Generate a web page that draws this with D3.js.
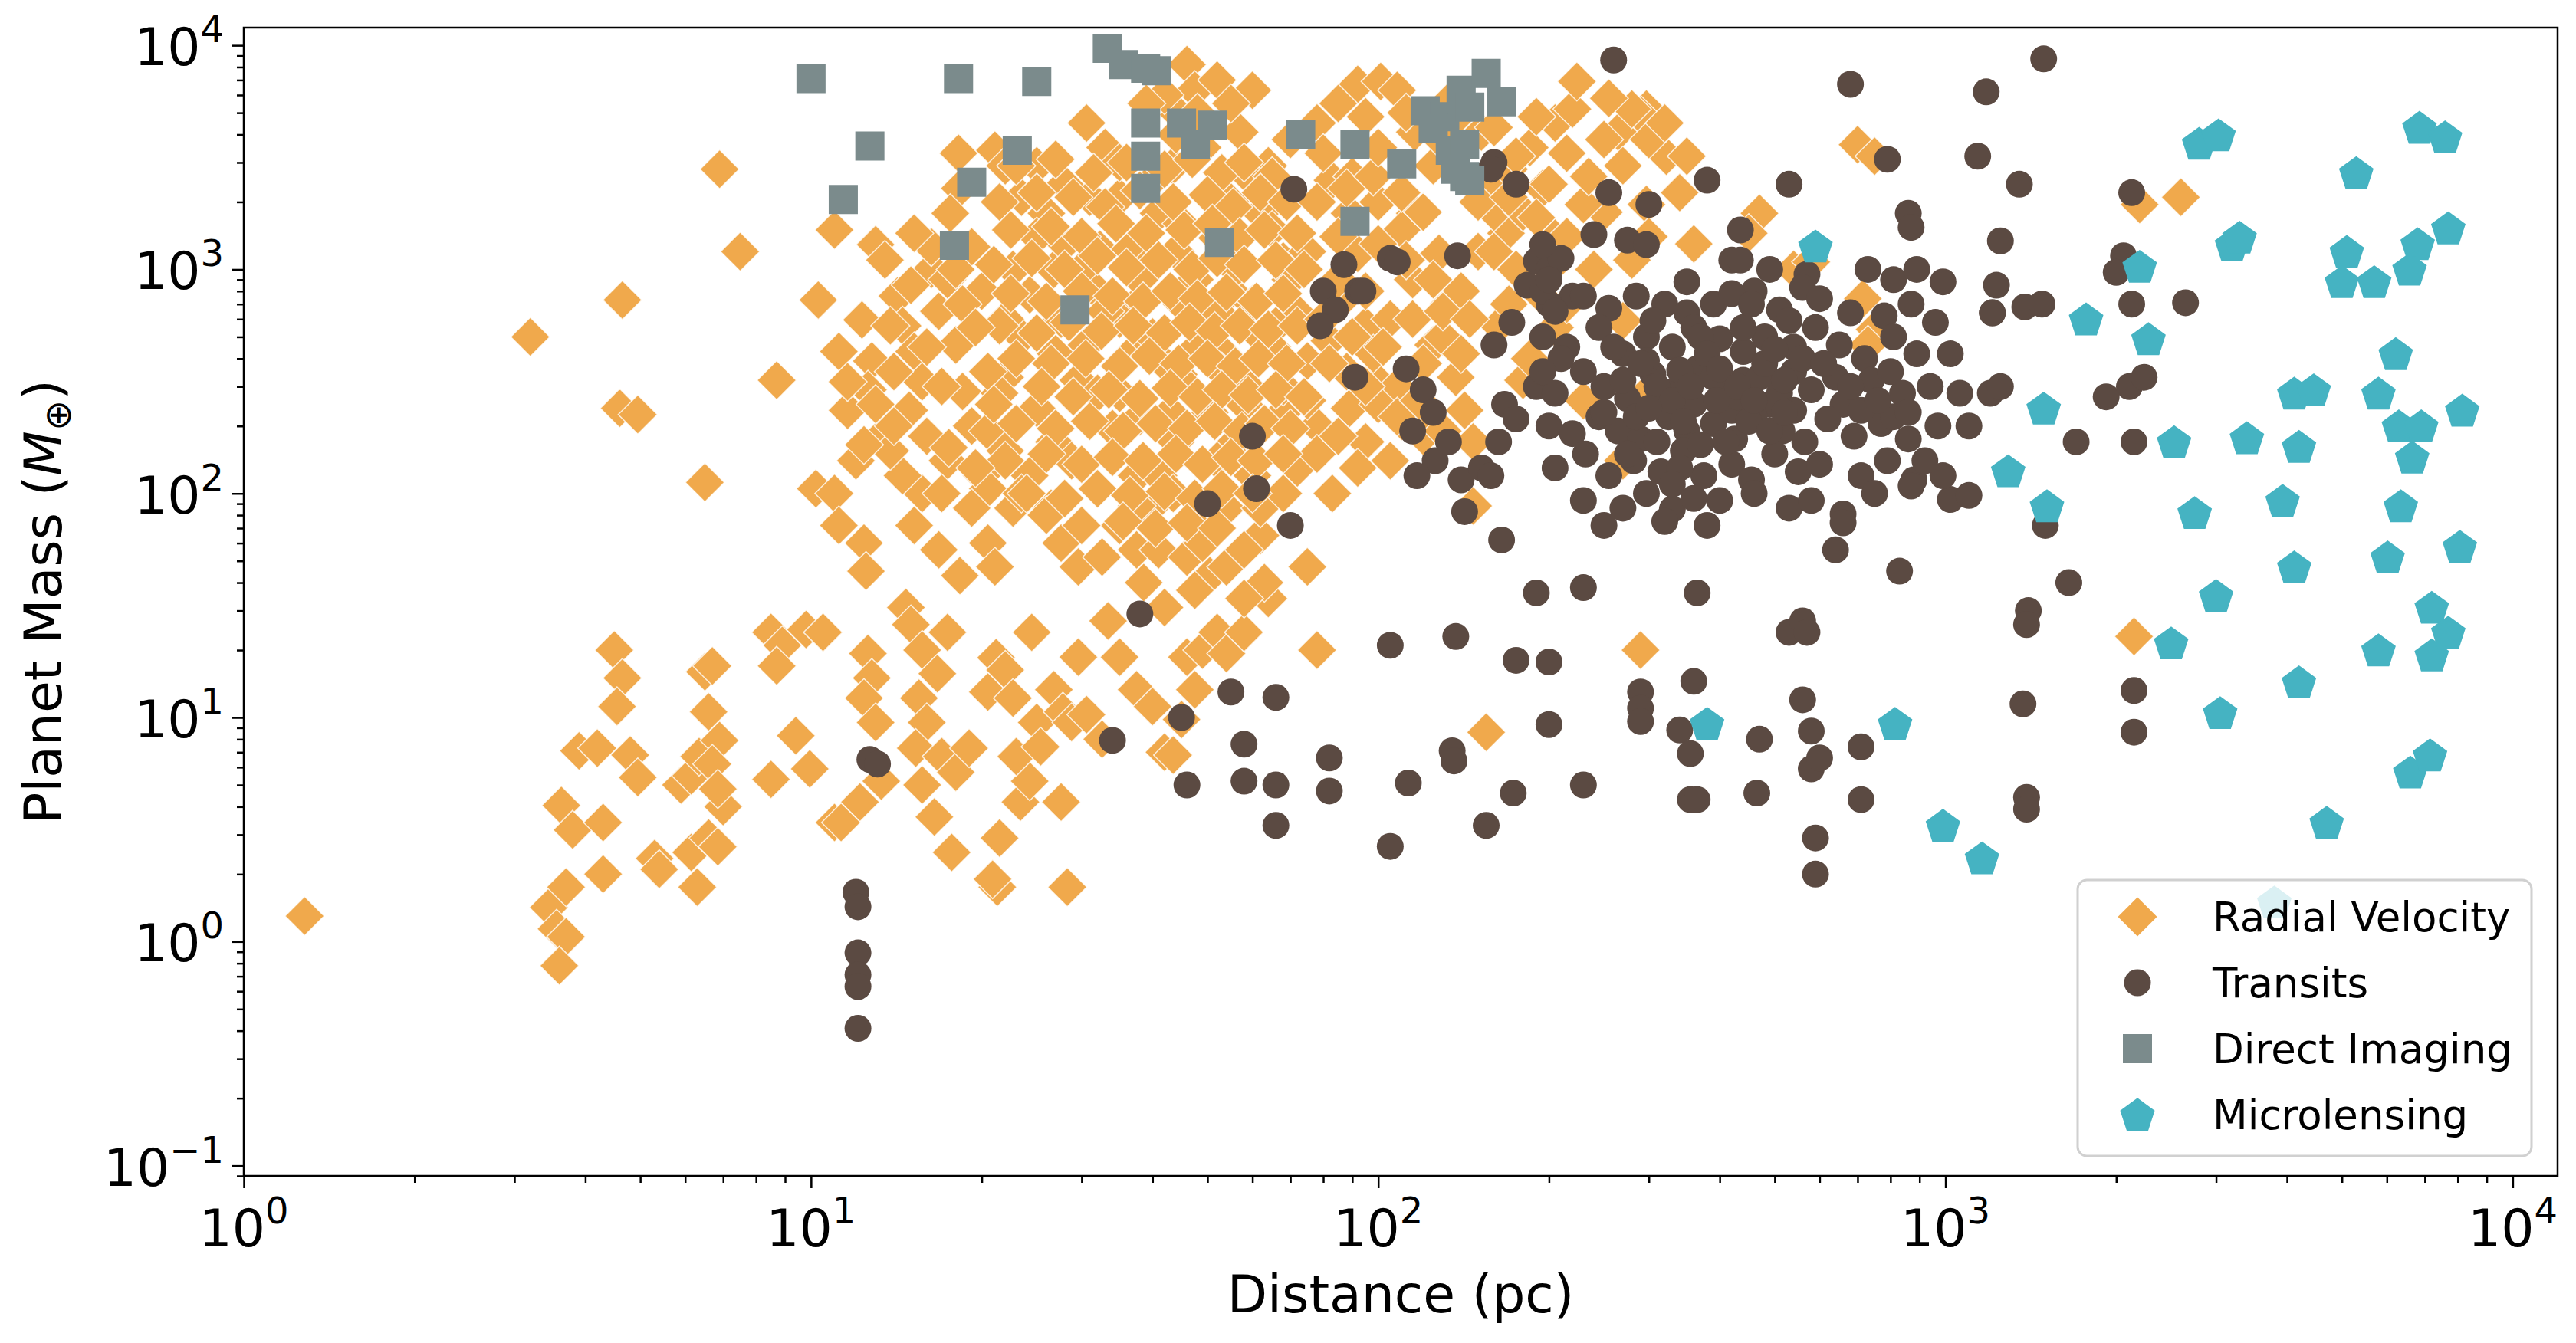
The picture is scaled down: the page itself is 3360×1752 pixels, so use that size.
<!DOCTYPE html>
<html>
<head>
<meta charset="utf-8">
<script src="https://cdn.jsdelivr.net/npm/d3@7"></script>
<style>
  body { margin: 0; background: #fff; }
  svg { display: block; }
  text { font-family: "DejaVu Sans", sans-serif; fill: #000; }
</style>
</head>
<body>
<script>
// discovery methods, in drawing order
const methods = ["Radial Velocity", "Transits", "Direct Imaging", "Microlensing"];
const methodColors = ["#f0a94c", "#5b4a42", "#7b8b8c", "#45b3c2"];
const methodShapes = ["diamond", "circle", "square", "pentagon"];

// [distance (pc), mass (Earth masses)]
const radialVelocity = [
  [1.28,1.3],[3.2,500],[4.65,730],[4.6,240],[4.95,225],[6.9,2800],[7.5,1200],[6.5,112],[8.7,320],
  [3.45,1.42],[3.56,1.14],[3.7,1.05],[3.6,0.78],[3.7,1.75],[3.63,4.05],[3.8,3.15],[3.9,7.1],[4.2,7.3],
  [4.5,20],[4.65,15],[4.55,11.2],[4.8,6.8],[4.95,5.4],[4.3,3.4],[4.3,2.0],[5.3,2.35],[5.4,2.1],[5.9,5.0],
  [6.15,5.5],[6.35,6.7],[6.3,1.75],[6.15,2.5],[6.6,2.9],[6.85,2.65],[6.5,16],[6.7,17],[6.6,10.6],[6.9,7.9],
  [6.7,6.2],[7.0,4.0],[6.85,4.8],[8.5,24],[8.9,21],[8.7,17],[9.8,24.7],[10.5,24],[9.4,8.3],[8.5,5.3],
  [9.95,5.9],[11,3.4],[10.3,730],[11,1500],[10.2,105],[11,100],[11.2,72],[12.4,60],[12.5,45],
  [12.6,19.3],[12.8,15],[12.4,12.2],[13,9.5],[13.3,5.2],[12.2,4.2],[11.3,3.4],[14.7,31],[15,26],[15.7,20],
  [15.5,12.2],[16,9.5],[15.3,7.3],[15.7,5],[16.5,3.6],[17.7,2.5],[17,6.7],[18,5.7],[17.4,24],[16.7,15.7],
  [19,7.3],[20.5,13],[21.2,18.5],[22,16.3],[22.7,12.2],[21.5,2.9],[21.3,1.75],[20.9,1.9],[23.4,4.2],
  [24.3,5.2],[23,6.7],[25,9.5],[25.4,7.4],[24.5,24],[26.8,13.3],[27.8,10.6],[28.8,9.5],[28.3,1.75],
  [27.6,4.2],[30.6,10.3],[32.6,8],[29.6,18.6],[35,18.6],[33.4,27],[37.5,13.3],[40,11.2],[42,7],[43.5,6.8],
  [45,9.8],[47.5,13.3],[46,18.6],[49,20],[52,24],[54,19.3],[58,24],[50.5,43],[47.5,37],[64,34],[78,20],
  [63,40],[42,31],[38.6,40],[37.5,56],[40,72],
  [13,1290],[12.3,595],[12.8,390],[12.6,290],[13.3,180],[12,140],[14.2,760],[14.5,560],[15.2,430],
  [15.7,315],[14.9,235],[16.3,1000],[17.4,900],[16.8,650],[18,460],[18.5,285],[19.2,200],[20,120],
  [20.5,105],[18.3,2300],[17.6,1780],[16.3,1260],[19.2,1260],[18.2,3300],[21.1,3400],
  [22,2900],[23.5,2100],[25,2900],[26,1780],[22.7,1000],[24.3,770],[26.8,1000],[27.6,600],[23.5,500],
  [22,330],[25,240],[26.8,170],[24.3,120],[22.7,86],[26.5,86],[28.8,140],[29.6,320],[30.6,460],[31.6,820],
  [32.3,1230],[31,2100],[30.6,4500],[33,3500],[35,2100],[36.5,1230],[37.5,700],[38.6,460],[35,280],
  [34,195],[37.5,120],[40,88],[41,120],[43,230],[44.5,340],[40,1090],[41,1780],[43.5,2900],[46,8200],
  [47.5,6300],[44.5,4900],[49,3500],[50.5,2100],[52,1380],[47.5,900],[49.5,600],[54,410],[58,310],
  [50.5,230],[56,170],[60,120],[54,86],[47.5,72],[62,65],[60,6300],[57,4100],[64,2900],[62,1780],[68,1090],
  [72,640],[66,560],[75,390],[68,230],[78,200],[72,130],[83,100],[78,4500],[83,2500],[89,1780],[92,1180],
  [85,700],[95,560],[98,330],[89,240],[95,170],[105,140],[92,6700],[101,6900],[108,6300],[116,4100],
  [125,2900],[116,1780],[128,1180],[133,700],[125,460],[137,330],[142,235],[147,170],[133,5600],[152,4100],
  [158,2500],[168,1450],[175,1000],[163,560],[180,320],[193,770],[205,1380],[205,4500],[220,5200],
  [224,6900],[265,4100],[297,5200],[305,4300],[290,4900],[322,3200],[350,3200],[360,1300],[297,1950],
  [250,1800],[230,1950],[240,1000],[270,590],[297,280],[230,260],[205,550],[270,140],
  [470,1780],[700,3600],[750,3200],[715,740],[750,540],[730,460],[540,1000],[580,1080],[2200,1950],
  [2600,2100],[2150,23],[290,20],[155,8.6],[147,88],[450,1450],
  [27.6,60],[29.6,47],[32.6,52],[35,72],[37.5,88],[41,56],[43.5,100],[46,52],[49,60],[54,47],[58,56],
  [62,86],[68,100],[78,150],[85,180],[92,130],[58,34],[75,47],
  [17.4,140],[19.2,86],[20.5,60],[21.1,47],[20.5,190],[22,155],[23.5,100],[26,80],[15.7,100],[14.5,120],
  [13.8,155],[15.2,72],[16.8,56],[18.3,43],[12.4,165],[11.6,235],[13.8,560],[11.2,430],[11.6,315],
  [35,600],[40,500],[45,700],[50,550],[55,800],[42,380],[48,450],[52,650],[38,900],[44,1200],[56,1000],
  [60,700],[65,450],[70,900],[46,300],[53,350],[62,500],[58,250],[36,400],[33,650],[30,1000],[28,1300],
  [45,1600],[55,1300],[65,1500],[75,1200],[85,900],[95,800],[105,600],[115,900],[110,1500],[100,2000],
  [90,2600],[80,3300],[70,3800],[60,2500],[55,2000],[40,2500],[35,3000],[28,2400],[25,1400],[22,600],
  [20,800],[18,1000],[27,420],[32,280],[38,220],[44,170],[52,140],[60,180],[68,300],[75,260],[82,480],
  [88,350],[98,420],[108,300],[120,380],[130,500],[140,800],[150,1200],[160,1800],[170,2800],[185,3500],
  [195,2300],[200,1000],[215,700],[120,180],[110,210],[100,250],[15.2,1450],
  // the dense core of the cloud
  [23,2900],[27,3100],[31.5,2700],[36,3000],[42,2800],[47,3100],[53,2700],[58,3000],[65,2600],
  [21.5,2000],[25,2200],[29,2100],[33,1900],[38,2250],[43.5,2000],[50,2150],[55.5,1900],[62,2200],[69,2000],
  [22.5,1500],[26.5,1550],[30,1400],[34.5,1600],[39,1450],[45.5,1500],[51,1600],[57,1400],[63,1500],[72,1450],
  [21,1050],[24.5,1120],[28,1000],[32,1150],[36,1020],[41,1100],[47,1000],[52,1120],[58,1050],[66,1100],[74,1000],
  [22.5,780],[26,720],[30,800],[34,760],[38.5,720],[43,800],[48,740],[54,790],[61,720],[68,780],
  [21.5,560],[25,520],[28.5,580],[32.5,530],[37,560],[42,520],[46.5,580],[51.5,530],[57,560],[64,540],[72,560],
  [23,400],[26.5,380],[30.5,400],[35,370],[39.5,410],[44.5,380],[50,400],[56,370],[61.5,400],[69,380],
  [21.5,280],[25.5,300],[29,270],[33.5,290],[38,265],[43,295],[48,270],[53,290],[59,275],[66,290],[74,270],
  [23,205],[27,195],[31,210],[35.5,190],[40.5,205],[46,195],[51.5,210],[57.5,190],[63,205],[70,195],
  [22,140],[26,150],[30,135],[34,145],[38.5,140],[44,150],[49,135],[55,145],[61,140],[68,150],
  [24,100],[28,95],[32,105],[36.5,98],[42,102],[47.5,95],[53,105],[60,100],
  [30,72],[35.5,75],[40.5,70],[46,74],[52,70],
  [42,6000],[48,5000],[52,7000],[55,5500],[44,4000],[39,5500],
  [78,2000],[88,2300],[98,2600],[110,2200],[120,1800],[85,1400],[100,1300],[112,1100],[125,900],[80,600],
  [90,500],[102,450],[115,600],[130,650],[82,380],[95,300],[108,220],[118,260],[130,190],[140,420],[145,600],
  [100,3500],[112,5000],[95,4800],[85,5500],[130,3700],[150,2000],[160,1200],[170,700],[185,400],[180,1800],
  [13.5,1100],[14,350],[15,850],[16,450],[17,300],[18.5,700],[19.5,550],[20.5,350],
  [13,250],[14,200],[16,180],[17.5,160],[19.5,130],[21,250],[17,100],
  [140,5000],[160,4300],[175,3200],[190,4800],[200,2400],[215,3300],[235,2600],[250,3800],[270,2900],
  [280,5200],[255,5800],[300,3800],[320,4500],[340,2200],[300,1400],[280,1100],[215,1400],[190,1700],[170,2100]
];

const transits = [
  [260,8600],[1490,8700],[680,6700],[1180,6200],[790,3100],[1140,3200],[1350,2400],[2130,2200],[380,2500],
  [530,2400],[300,1950],[71,2280],[255,2200],[435,1500],[420,1100],[860,1780],[870,1540],[1250,1340],
  [1230,850],[1210,640],[1380,680],[1480,700],[2060,1150],[2000,970],[2130,700],[1920,270],[2110,300],
  [2240,330],[2650,710],[1700,170],[2150,170],[1500,72],[1650,40],[1400,30],[1390,26],[1370,11.5],
  [1390,4.4],[1390,3.9],[2150,13.2],[2150,8.6],[1020,94],[1100,98],[990,120],[1100,200],[1200,280],[1250,300],
  [60,180],[61,105],[50,90],[70,72],[38,29],[34,7.9],[45,10],[46,5.0],[55,13],[58,7.6],[58,5.2],[66,5.0],
  [66,3.3],[66,12.3],[82,6.6],[82,4.7],[105,21],[105,2.66],[113,5.1],[135,7.1],[136,6.4],[137,23],[142,83],
  [140,115],[165,62],[175,18],[173,4.6],[155,3.3],[190,36],[200,17.7],[200,9.3],[230,38],[230,5.0],
  [290,13],[290,11],[290,9.6],[340,8.8],[355,6.9],[355,4.3],[365,4.3],[360,14.5],[365,36],[380,72],
  [470,8.0],[465,4.6],[530,24],[560,27],[570,24],[560,12],[580,8.7],[580,5.9],[600,6.6],[590,2.9],
  [590,2.0],[640,56],[660,81],[710,7.4],[710,4.3],[830,45],
  [12,1.66],[12.1,1.43],[12.1,0.89],[12.1,0.71],[12.1,0.63],[12.1,0.41],[12.7,6.5],[13.1,6.2],
  [87,1050],[92,800],[105,1120],[108,1080],[138,1150],[80,800],[84,660],[94,800],[79,560],[91,330],
  [112,360],[120,290],[125,230],[115,190],[126,140],[117,120],[133,170],[152,130],[158,120],[163,170],
  [167,250],[175,215],[160,460],[172,580],[183,850],[190,1090],[200,1000],[210,1120],[220,760],[160,3000],
  [175,2400],[158,2800],
  [195,1290],[240,1430],[275,1350],[297,1290],[435,1100],[490,1000],[570,950],[730,1000],[810,900],
  [890,1000],[990,880],
  [200,700],[230,760],[255,670],[285,760],[320,700],[350,640],[390,700],[460,800],[510,660],[560,830],
  [600,740],[680,640],[780,620],[870,700],[960,580],[1210,640],
  [195,500],[215,450],[245,550],[270,420],[297,500],[330,450],[360,550],[400,490],[440,430],[480,500],
  [540,450],[590,550],[650,460],[720,400],[810,500],[890,420],[1020,420],
  [190,300],[205,280],[230,350],[250,300],[275,265],[305,340],[335,290],[365,360],[410,280],[440,320],
  [490,250],[540,350],[580,290],[660,250],[740,320],[840,280],[940,300],[1060,280],
  [200,200],[220,185],[245,220],[265,190],[290,175],[325,220],[350,190],[390,205],[425,175],[460,220],
  [515,190],[565,170],[620,215],[690,180],[770,205],[860,175],[970,200],
  [205,130],[232,150],[255,120],[282,140],[315,125],[345,155],[375,120],[420,135],[455,115],[500,150],
  [550,125],[600,135],[710,120],[790,140],[880,115],[920,140],
  [230,93],[270,86],[297,100],[330,85],[400,93],[460,100],[530,86],[580,93],[660,74],[750,100],[870,108],
  [250,72],[320,75],
  [297,390],[340,355],[390,330],[320,240],[360,250],[420,235],[305,590],[370,500],[270,320],[440,550],
  [410,170],[340,130],[285,220],[470,330],[510,280],[350,880],[420,780],[540,235],[640,330],[710,235],
  [810,220],[455,700],[530,590],
  [260,450],[290,380],[310,300],[330,260],[355,300],[380,420],[400,360],[430,270],[450,210],[480,380],
  [500,440],[520,320],[560,400],[300,240],[275,150],[310,170],[345,210],[370,165],[395,260],[430,300],
  [460,260],[490,190],[520,230],[610,380],[680,300],[760,260],[800,350],[860,230],[250,230],[330,110],
  [360,95],[195,800],[200,900],[205,650],[210,400],[195,350]
];

const directImaging = [
  [10,7100],[11.4,2050],[12.7,3550],[17.9,1280],[18.2,7100],[19.2,2450],[23.1,3400],[25,6900],[29.2,660],
  [33.3,9700],[35.6,8200],[38.9,7900],[40.7,7700],[38.9,4500],[38.9,3200],[38.9,2300],[45,4500],[47.6,3600],
  [51,4400],[52.5,1320],[73,4000],[91,3600],[91,1640],[110,2960],[121,5100],[131,4800],[134,3400],
  [140,6300],[142,3600],[142,2600],[145,2500],[155,7500],[165,5600],[125,4250],[145,5300],[137,2800]
];

const microlensing = [
  [590,1270],[380,9.4],[815,9.4],[990,3.3],[1160,2.36],[1290,126],[1490,240],[1510,88],[1770,600],
  [2200,1030],[2280,490],[2530,170],[2750,82],[2500,21.5],[3000,35],[3050,10.5],[2800,3650],[3030,3980],
  [3200,1290],[3300,1390],[3400,177],[3930,93],[4120,47],[4200,162],[4120,280],[4460,290],[4200,14.4],
  [4700,3.4],[3800,1.5],[5300,2700],[5100,1200],[5000,880],[5700,880],[5800,280],[6220,420],[6020,52],
  [5800,20],[6350,88],[6300,200],[6650,145],[6600,5.7],[6850,4300],[6800,1300],[6580,1000],[7200,19],
  [7200,31],[7700,24],[7150,6.8],[7600,3900],[7700,1530],[8150,235],[8070,58],[6900,200]
];

const seriesData = [radialVelocity, transits, directImaging, microlensing];

const xMajorTicks = [1, 10, 100, 1000, 10000];
const yMajorTicks = [0.1, 1, 10, 100, 1000, 10000];
const xLabel = "Distance (pc)";

const width = 3360, height = 1752;
const plot = { left: 318, right: 3336, top: 36, bottom: 1534 };

const x = d3.scaleLog().domain([1, 12000]).range([plot.left, plot.right]);
const y = d3.scaleLog().domain([0.09, 12000]).range([plot.bottom, plot.top]);

// minor ticks 2..9 of each decade
function minorTicks(scale) {
  const [lo, hi] = scale.domain();
  const out = [];
  for (let e = Math.floor(Math.log10(lo)); e <= Math.ceil(Math.log10(hi)); e++) {
    for (let k = 2; k <= 9; k++) {
      const v = k * Math.pow(10, e);
      if (v >= lo && v <= hi) out.push(v);
    }
  }
  return out;
}

// marker path centred on 0,0
function markerPath(shape) {
  if (shape === "diamond") {
    const r = 25.5;
    return `M0,${-r}L${r},0L0,${r}L${-r},0Z`;
  }
  if (shape === "square") {
    const h = 19;
    return `M${-h},${-h}H${h}V${h}H${-h}Z`;
  }
  if (shape === "circle") {
    const r = 17.5;
    return `M${r},0A${r},${r} 0 1,1 ${-r},0A${r},${r} 0 1,1 ${r},0Z`;
  }
  // pentagon, point up
  const R = 23.7;
  const pts = d3.range(5).map(i => {
    const a = -Math.PI / 2 + i * 2 * Math.PI / 5;
    return [R * Math.cos(a), R * Math.sin(a) + 2];
  });
  return "M" + pts.map(p => p.join(",")).join("L") + "Z";
}

const svg = d3.select("body").append("svg")
  .attr("width", width)
  .attr("height", height);

svg.append("rect").attr("width", width).attr("height", height).attr("fill", "#fff");

svg.append("clipPath").attr("id", "plotclip")
  .append("rect")
  .attr("x", plot.left).attr("y", plot.top)
  .attr("width", plot.right - plot.left).attr("height", plot.bottom - plot.top);

// points
const pointsG = svg.append("g").attr("clip-path", "url(#plotclip)");
seriesData.forEach((data, i) => {
  pointsG.append("g")
    .selectAll("path")
    .data(data)
    .join("path")
    .attr("d", markerPath(methodShapes[i]))
    .attr("transform", d => `translate(${x(d[0])},${y(d[1])})`)
    .attr("fill", methodColors[i])
    .attr("stroke", i === 0 ? "#fff" : "none")
    .attr("stroke-width", 1.5)
    .attr("stroke-opacity", 0.8);
});

// axes
function styleAxis(g) {
  g.select(".domain").remove();
  g.selectAll(".tick line").attr("stroke", "#000").attr("stroke-width", 2.5);
}

const xAxisG = svg.append("g").attr("transform", `translate(0,${plot.bottom})`);
xAxisG.append("g").call(d3.axisBottom(x).tickValues(minorTicks(x)).tickSize(9).tickFormat(() => "")).call(styleAxis);
xAxisG.append("g").call(d3.axisBottom(x).tickValues(xMajorTicks).tickSize(16).tickFormat(() => "")).call(styleAxis);

const yAxisG = svg.append("g").attr("transform", `translate(${plot.left},0)`);
yAxisG.append("g").call(d3.axisLeft(y).tickValues(minorTicks(y)).tickSize(9).tickFormat(() => "")).call(styleAxis);
yAxisG.append("g").call(d3.axisLeft(y).tickValues(yMajorTicks).tickSize(16).tickFormat(() => "")).call(styleAxis);

function powerLabel(sel, v) {
  const e = Math.round(Math.log10(v));
  sel.append("tspan").attr("font-size", 68).text("10");
  sel.append("tspan").attr("font-size", 48).attr("dy", -30)
    .text(e < 0 ? "\u2212" + (-e) : String(e));
}

svg.append("g").selectAll("text")
  .data(xMajorTicks)
  .join("text")
  .attr("x", d => x(d))
  .attr("y", 1626)
  .attr("text-anchor", "middle")
  .each(function(d) { powerLabel(d3.select(this), d); });

svg.append("g").selectAll("text")
  .data(yMajorTicks)
  .join("text")
  .attr("x", 292)
  .attr("y", d => y(d) + 26)
  .attr("text-anchor", "end")
  .each(function(d) { powerLabel(d3.select(this), d); });

// frame
svg.append("rect")
  .attr("x", plot.left).attr("y", plot.top)
  .attr("width", plot.right - plot.left).attr("height", plot.bottom - plot.top)
  .attr("fill", "none").attr("stroke", "#000").attr("stroke-width", 2.5);

// axis labels
svg.append("text")
  .attr("x", (plot.left + plot.right) / 2)
  .attr("y", 1712)
  .attr("text-anchor", "middle")
  .attr("font-size", 68)
  .text(xLabel);

const yl = svg.append("text")
  .attr("transform", `translate(80,${(plot.top + plot.bottom) / 2}) rotate(-90)`)
  .attr("text-anchor", "middle")
  .attr("font-size", 68);
yl.append("tspan").text("Planet Mass (");
yl.append("tspan").attr("font-style", "italic").text("M");
yl.append("tspan").attr("font-size", 48).attr("dy", 12).text("\u2295");
yl.append("tspan").attr("dy", -12).text(")");

// legend
const legend = svg.append("g");
legend.append("rect")
  .attr("x", 2710).attr("y", 1148)
  .attr("width", 592).attr("height", 360)
  .attr("rx", 12)
  .attr("fill", "#fff").attr("fill-opacity", 0.8)
  .attr("stroke", "#d0d0d0").attr("stroke-width", 3);

const rows = legend.selectAll("g.row")
  .data(methods)
  .join("g")
  .attr("class", "row")
  .attr("transform", (d, i) => `translate(0,${1196 + i * 86})`);

rows.append("path")
  .attr("d", (d, i) => markerPath(methodShapes[i]))
  .attr("transform", "translate(2788,0)")
  .attr("fill", (d, i) => methodColors[i]);

rows.append("text")
  .attr("x", 2886)
  .attr("y", 19)
  .attr("font-size", 53)
  .text(d => d);
</script>
</body>
</html>
